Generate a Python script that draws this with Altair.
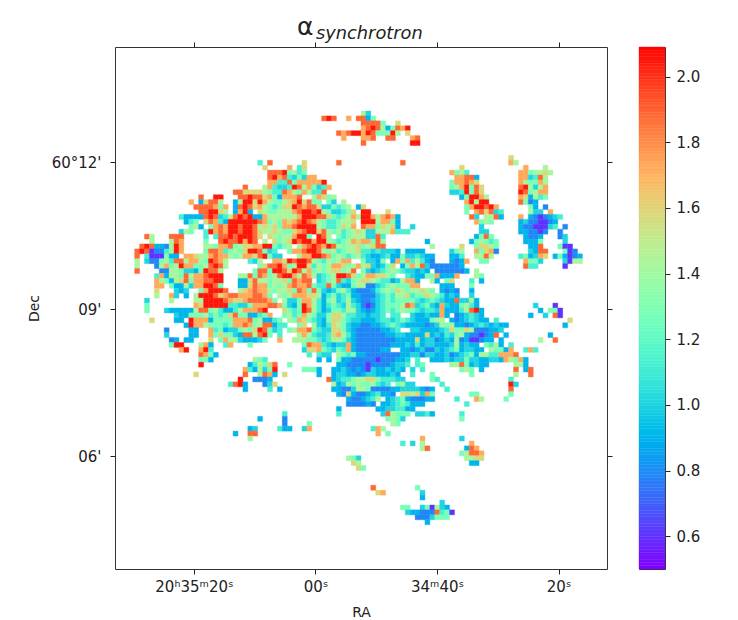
import math
import altair as alt
import pandas as pd

# value read for each letter of the cell strings
LEVEL = dict(a=0.6, b=0.78, c=0.9, d=1.0, e=1.12, f=1.27, g=1.42, h=1.58, i=1.72, j=1.88, k=2.05)

# (row from top, first column, cells); '.' is an empty (NaN) cell
TOP = [
 (13,50,"gd"),(14,42,"jkj"),(14,47,"i"),(14,49,"jjcf"),(15,50,"jjjjf"),(15,57,"h"),
 (16,50,"ijkjgcfjik"),(17,45,"jijkk"),(17,50,"ikjfffkg.h"),(18,46,"i"),(18,50,"iij"),(18,55,"jj"),
 (18,60,"ij"),(19,50,"j"),(19,60,"kk"),(23,58,"j"),
]
RIGHT_A = [
 (24,70,"h"),(25,68,"ifge"),(26,69,"iijjc"),(27,68,"fiijih"),(28,68,"fgikfjh"),(29,68,"ddekfjh"),
 (30,70,"cfkkig"),(31,71,"ikgkk"),(32,71,"fikkjki"),(33,71,"f.ijhjde"),(34,72,"jd.ggjc"),(35,73,"ifgf"),
 (36,74,"d"),(37,74,"dd"),(38,73,"cfjf"),(39,72,"cfgfef"),(40,73,"fhhgf"),(41,73,"ifhib"),(42,73,"ggjg"),(43,74,"ff"),
]
RIGHT_B = [
 (22,80,"h"),(23,80,"ig"),(24,83,"i"),(24,87,"g"),(25,82,"iifgghg"),(26,82,"iidejg"),(27,82,"igffig"),
 (28,82,"jkgdgi"),(29,82,"kjfgii"),(30,82,"ihcgef"),(31,82,"jfbc"),(32,84,"fc.b"),(33,84,"gdd.i"),
 (34,82,"i.cbabcde"),(35,82,"cdbbaabc"),(36,82,"cbbaaade.b"),(37,82,"ccbbab..b"),(38,83,"cbbc...bd"),
 (39,83,"cccf....d"),(40,84,"ccj...faa"),(41,84,"dcjj...fab"),(42,82,"efcdih.cfcabc"),(43,83,"iffd....dagg"),(44,83,"jee.....a"),
]
UPPER = [
 (24,30,"h"),(24,35,"i"),(24,37,"eh"),(23,29,"e"),(23,31,"j"),(23,38,"h"),(23,45,"j"),
 (25,31,"jjjkfgef"),(26,31,"jkijedfdii"),(27,31,"iieejfiiiiik"),(28,26,"j"),(28,30,"gieddekjgifdei"),
 (29,24,"jjhhhhgfeejigfigee"),(29,42,"j"),
 (30,17,"j"),(30,20,"kk"),(30,25,"jjkjjhifciiij..gihfg"),
 (31,15,"i"),(31,17,"chjjg"),(31,24,"cgkkhkigffghikhjff.fd.g"),
 (32,16,"jjjjifi.cjkjhigfefhhkjijjhddfefg.cc"),
 (33,17,"jjkkhg.cikc.hgffgggijkkjkgfddefh"),
 (34,13,"eccccjkjdegjkjkcciggggggikkkjjhfefgigk"),
 (35,14,"cef.hjieckkkkkkjifgfihijkjigfeefggh"),
 (36,15,"fgc.fijikkjkkjghghfiijkkkkgfeefhgi"),
 (37,13,"dgf..ekijikkjkkjhgghgffhijkkhjgfgefgh"),
 (38,6,"jg"),(38,11,"jjj"),(38,18,"e.e"),(38,21,"jjkjkkkjh.hgfggikkf.kjg.fefgg"),
 (39,7,"g"),(39,11,"gji"),(39,18,"f"),(39,21,"jkjjkikj.g.hfghkjkkikkgfefgih"),
 (40,5,"jkjccbgki"),(40,18,"ggfiijfghhiikkfefg.gijkjikjgfgghf"),
 (41,4,"jkjabbegki"),(41,18,"fjjiefgfhkkjfde..fiijkkjgfgefggh"),
 (42,4,"j.eaaafcc.iihg"),(42,18,"gijiigfgiihjkfdd...giikkjifgfefgi"),
 (43,4,"g.dbbfgejjgiigfkjig"),(43,27,"edg..iihkjkkjgfegfgii"),
 (44,4,"g"),(44,8,"bgifgkiiffgjkjg"),(44,29,"fhjjkifgkkhegfgiihfgi"),
 (45,4,"j"),(45,9,"bbggfddcfkjjg"),(45,28,"fjjfkkjhkjgifgfghhfgj"),
]
# right of column 50, rows 32-45
UPPER_MID = [
 (32,50,"h"),(33,50,"kk"),(33,55,"h"),(34,50,"kki"),(34,53,"gijic"),(35,50,"kkk"),(35,53,"giifc"),
 (36,50,"jiifhghc"),(36,60,"d"),(37,50,"gddgggieee"),(38,50,"gddje"),(39,50,"iifjg"),(39,63,"c"),
 (40,50,"fghjj"),(40,64,"g"),(40,70,"h"),(41,50,"eededddc.cccc"),(41,68,"dfg"),
 (42,50,"edccdeccfddedcc"),(42,68,"cce"),(43,50,"fddcf.cifiegecb"),(43,68,"cbci"),
 (44,50,"ghdcdfh.cfigjdbbbbbbc"),(45,50,"fdcdefgfeddcdc.bbbbbbc"),(45,73,"g"),
]
CENTRE = [
 (46,38,"jigdefgkkjhfgiihhgf"),(46,59,"edccfficcci"),(46,73,"gf"),
 (47,38,"jj.defgjedfghhgfeecdgii"),(47,61,"c"),(47,64,"gc"),(47,67,"fh"),(47,72,"e"),(47,74,"c"),
 (48,38,"ijfeejfdccfggbbdefgfffii"),(48,66,"ccc"),(48,72,"f"),
 (49,38,"ifjfdcdfgecbbbcefgfhgfgghgf"),(49,66,"cbcb"),(49,72,"c"),
 (50,38,"ihhgcefdefccbbbdefeggheffhgfecdc"),(50,72,"d"),
 (51,38,"iigecfgdegdcbbcdefeffffedefedccjddgc"),
 (52,38,"kigecefedgedbabdefffgjidefdcidccfgec"),(52,85,"d"),(52,89,"a"),
 (53,38,"kjgecdffeggdcbcdefefgffedeedicccegjkc"),(53,86,"c"),(53,88,"ffa"),
 (54,38,"igfddfhhgeeddcdde.ee..dccdccic.bcdedc"),(54,84,"c"),(54,87,"d.ja"),
 (55,38,"hfedcfhhfeddcccdeedefedcccfgg.cbcdedc"),(55,75,"c"),(55,77,"e"),(55,92,"h"),
 (56,38,"h.gdcehgfdccbbccdefedccccbcdgfgccbcdedcd"),(56,78,"cc"),(56,91,"c"),
 (57,38,"ijfeddhhfdcbbbbbccde..ddccccdehffhgbbbccd"),
 (58,38,"igeddehigecbbbbbbccddcccchcdcedfgcbbabcj"),(58,79,"c"),(58,88,"c"),
 (59,38,"gffedeggfdcbbbbbbbbcccchcddbcdcgbcaabcc.c"),(59,86,"g"),(59,89,"j"),
 (60,38,"fjiiedcddicbbbbbbbcccdcecddcccdgcdcc.fegc"),(60,80,"e"),
 (61,38,"dhhifedfeicbbbbbcc..ccbcdbbdcdefcddcc.gffc"),(61,80,"i"),(61,83,"eie"),
 (62,39,"e.edd.gfefccbbbbbbbccddbddccdbcdefcggeeiicc"),(62,80,"ij"),
 (63,41,"c.c.fccbbbbbabbbccd.e..cccdcddfddccddcccii"),(63,79,"igf"),(63,83,"c"),
 (64,45,"ccbbbbabbbbcdde"),(64,61,"ef"),(64,68,"ggjfcdcc"),(64,81,"gg"),(64,83,"c"),
 (65,39,"ffc"),(65,44,"ccdcbcbadccdcdc"),(65,60,"d"),(65,62,"e"),(65,70,"fgf"),(65,74,"c"),(65,81,"j.cj"),
 (66,41,"c"),(66,44,"cddccbcddcccdc"),(66,60,"e"),(66,64,"f"),(66,72,"f"),(66,81,"g..j"),
 (67,43,"jcdeefgghhfeeedd"),(67,64,"fe"),(67,80,"e"),
 (68,44,"gcdgfgffgede.fgdd"),(68,66,"e"),(68,80,"kd"),
 (69,44,"ccbbdggfbbbbccddddcbc"),(69,67,"e"),(69,80,"j"),
 (70,45,"cbhcbbcdeccb.hhghddb"),(70,63,"if"),(70,72,"ff"),(70,80,"f"),
 (71,47,"cbbcdeg.cdefcbbbcc"),(71,69,"e"),(71,73,"ig"),(71,79,"f"),
 (72,47,"bbbbcb"),(72,54,"ccdefeccc"),(72,71,"e"),
 (73,45,"c"),(73,53,"ccddeecc"),(74,45,"e"),(74,54,"djgfff"),(74,61,"ddec"),(74,70,"e"),
 (75,55,"fgfd"),(75,70,"f"),(76,56,"gf"),
]
LOWER_LEFT = [
 (46,8,"eicggfjgiijkkk"),(46,25,"ggjfjifgjkkighg"),
 (47,8,"igfcghjfiijjkk"),(47,25,"cchjggfgghfji"),
 (48,8,"ii.fccgdiikkjf"),(48,25,"cchjiifgfgiji"),
 (49,8,"h"),(49,12,"dcd"),(49,17,"fikkkj"),(49,25,"ghijiigfgghfj"),
 (50,8,"g..id.c.gkkkjhijjiiijjif"),(50,33,"gfgiihi"),
 (51,6,"d"),(51,11,"g"),(51,16,"ggkkkkjihhijjjjif"),(51,34,"gddf"),
 (52,6,"f"),(52,16,"ihkkkkkeeddfiiijji"),(52,34,"fdcfj"),
 (53,6,"f"),(53,10,"dccccc"),(53,16,"gjjfgeccegiiijk"),(53,34,"hfef"),
 (54,12,"dccfffgefefhjffccef"),(54,31,"i"),(54,34,"fgefi"),
 (55,7,"h"),(55,12,"cc"),(55,15,"kiiicffffiiijfgccef"),(55,35,"gfi"),
 (56,14,"ckiigfffefiijifgjjge"),(56,32,"c"),(56,34,"e"),(56,37,"fi"),
 (57,10,"b"),(57,15,"cc"),(57,19,"iefcddfgfhkjfde"),(57,35,"fgi"),
 (58,10,"d"),(58,15,"cc"),(58,19,"ifhffdcjjgjkf"),(58,33,"e"),(58,37,"gi"),
 (59,11,"bc"),(59,14,"cc"),(59,19,"h.figgdcccdf"),(59,33,"i"),(59,36,"gg"),
 (60,11,"fkk"),(60,17,"gic"),(60,22,"ei"),(60,27,"f"),
 (61,13,"ik"),(61,17,"ike"),(62,17,"jifc"),
 (63,17,"ffc"),(63,28,"gfe"),
 (64,17,"k"),(64,27,"cegfhj"),(64,35,"f"),
 (65,26,"iecgdfk"),(65,38,"ffc"),
 (66,16,"h"),(66,26,"j"),(66,29,"gjic"),(66,34,"h"),(66,41,"c"),
 (67,25,"k"),(67,28,"bbbc"),
 (68,23,"ejkc"),(68,30,"bdh"),
 (69,26,"c"),(69,31,"e"),(69,33,"c"),
]
BOTTOM = [
 (74,34,"e"),(75,34,"b"),(76,34,"b"),(77,33,"ecc"),(75,29,"c"),
 (77,27,"cd"),(78,27,"jj"),(79,27,"g"),(78,24,"c"),
 (76,39,"f"),(77,38,"di"),
 (77,52,"eig"),(78,53,"i"),(78,55,"f"),
 (80,58,"e"),(80,60,"d"),(79,62,"i"),(80,62,"g"),(81,62,"gj"),
 (79,70,"d"),(80,72,"i"),(81,71,"cji"),(82,70,"fgjji"),(83,71,"gghh"),(84,72,"cc"),
 (83,47,"gfd"),(84,48,"hg"),(85,49,"hf"),
 (89,52,"j"),(90,53,"hi"),
 (89,61,"f"),(90,62,"d"),(91,62,"c"),
 (92,66,"d"),(93,58,"ff"),(93,62,"dfagdc"),
 (94,59,"dccbbbjefa"),(95,61,"bbbdfff"),(96,63,"c"),
]

X_TICKS = [16.05, 40.75, 65.45, 90.15]
X_LABELS = ["20\u02b035\u1d5020\u02e2", "00\u02e2", "34\u1d5040\u02e2", "20\u02e2"]
Y_TICKS = [23.37, 53.25, 83.13]
Y_LABELS = ["60\u00b012'", "09'", "06'"]
CB_TICKS = [0.6, 0.8, 1.0, 1.2, 1.4, 1.6, 1.8, 2.0]
VMIN, VMAX = 0.5, 2.09
FONT = "DejaVu Sans"

def rainbow(t):
    r = min(1, abs(2*t - 0.5)); g = math.sin(math.pi*t); b = math.cos(math.pi*t/2)
    return "#%02x%02x%02x" % (round(r*255), round(g*255), round(max(b, 0)*255))
COLORS = [rainbow(i/32) for i in range(33)]

cells = {}
for seg in TOP + RIGHT_A + RIGHT_B + UPPER + UPPER_MID + LOWER_LEFT + CENTRE + BOTTOM:
    r, c, s = seg
    for i, ch in enumerate(s):
        if ch != ".":
            cells[(r, c + i)] = LEVEL[ch]
df = pd.DataFrame([{"c0": c, "c1": c + 1, "r0": r, "r1": r + 1, "v": v} for (r, c), v in cells.items()])

color = alt.Color("v:Q", scale=alt.Scale(domain=[VMIN, VMAX], range=COLORS), legend=None)
xs = alt.Scale(domain=[0, 100], nice=False, zero=False)
ys = alt.Scale(domain=[106, 0], nice=False, zero=False)

def expr(t, l):
    return "%r[indexof(%r, datum.value)]" % (l, t)

ax = dict(labelFont=FONT, labelFontSize=15, labelColor="#222", tickColor="#222", tickSize=5,
          domain=False, grid=False, titleFont=FONT, titleFontSize=14, titleFontWeight="normal", titleColor="#222")

heat = alt.Chart(df).mark_rect(strokeWidth=0.4).encode(
    x=alt.X("c0:Q", scale=xs, title="RA",
            axis=alt.Axis(values=X_TICKS, labelExpr=expr(X_TICKS, X_LABELS), labelOverlap=False, labelPadding=5, titlePadding=11, **ax)),
    x2="c1:Q",
    y=alt.Y("r0:Q", scale=ys, title="Dec",
            axis=alt.Axis(values=Y_TICKS, labelExpr=expr(Y_TICKS, Y_LABELS), labelOverlap=False, labelPadding=9, titlePadding=10, **ax)),
    y2="r1:Q", color=color, stroke=color)

ghost = alt.Chart(pd.DataFrame({"c0": [0], "r0": [0]})).mark_point(opacity=0).encode(
    x=alt.X("c0:Q", scale=xs, title=None, axis=alt.Axis(orient="top", values=X_TICKS, labels=False, **ax)),
    y=alt.Y("r0:Q", scale=ys, title=None, axis=alt.Axis(orient="right", values=Y_TICKS, labels=False, **ax)))

alpha = alt.Chart(pd.DataFrame({"t": ["\u03b1"]})).mark_text(font=FONT, fontSize=25, color="#222", align="left", baseline="alphabetic").encode(
    x=alt.value(182), y=alt.value(-12), text="t:N")
sub = alt.Chart(pd.DataFrame({"t": ["synchrotron"]})).mark_text(font=FONT, fontSize=17.8, fontStyle="italic", color="#222", align="left", baseline="alphabetic").encode(
    x=alt.value(201), y=alt.value(-8), text="t:N")

main = alt.layer(heat, ghost, alpha, sub).resolve_axis(x="independent", y="independent").properties(width=492, height=522)

N = 160
bar = pd.DataFrame({"a": [VMIN + (VMAX-VMIN)*i/N for i in range(N)], "b": [VMIN + (VMAX-VMIN)*(i+1)/N for i in range(N)]})
cb = alt.Chart(bar).mark_rect(strokeWidth=0.4).encode(
    x=alt.value(0), x2=alt.value(26),
    y=alt.Y("a:Q", scale=alt.Scale(domain=[VMIN, VMAX], nice=False, zero=False), title=None,
            axis=alt.Axis(orient="right", values=CB_TICKS, format=".1f", labelPadding=6, **ax)),
    y2="b:Q",
    color=alt.Color("a:Q", scale=alt.Scale(domain=[VMIN, VMAX], range=COLORS), legend=None),
    stroke=alt.Color("a:Q", scale=alt.Scale(domain=[VMIN, VMAX], range=COLORS), legend=None),
).properties(width=26, height=522)

chart = alt.hconcat(main, cb, spacing=25).properties(
    padding={"left": 18, "top": 6, "right": 5, "bottom": 0}, background="white"
).configure_view(stroke="#333", strokeWidth=1)

chart.save("out.html", embed_options={"renderer": "svg", "actions": False})
